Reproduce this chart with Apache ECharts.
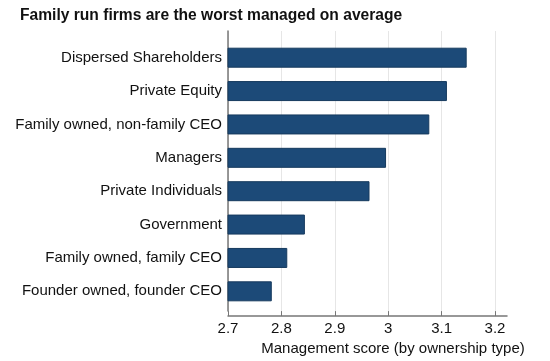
<!DOCTYPE html>
<html><head><meta charset="utf-8">
<script src="https://cdn.jsdelivr.net/npm/echarts@6/dist/echarts.min.js"></script>
<style>html,body{margin:0;padding:0;background:#fff}#c{width:550px;height:361px}</style>
</head><body><div id="c"></div>
<script>
const titleText = "Family run firms are the worst managed on average";
const categories = ["Dispersed Shareholders","Private Equity","Family owned, non-family CEO","Managers","Private Individuals","Government","Family owned, family CEO","Founder owned, founder CEO"];
const scores = [3.147, 3.110, 3.077, 2.996, 2.965, 2.844, 2.811, 2.782];
const xTicks = [2.7, 2.8, 2.9, 3.0, 3.1, 3.2];
const axisName = "Management score (by ownership type)";

const font = "'Liberation Sans', Arial, Helvetica, sans-serif";
const chart = echarts.init(document.getElementById('c'), null, {renderer:'canvas'});
chart.setOption({
  animation:false,
  title:{text:titleText, left:15, top:3, textStyle:{fontFamily:font, fontSize:15.6, fontWeight:'bold', color:'#111'}},
  grid:[
    {left:228, top:31, width:267, height:285},
    {left:228, top:41, width:279, height:267}
  ],
  xAxis:[
    {gridIndex:0, type:'value', min:2.7, max:3.2, interval:0.1,
     axisLine:{show:false},
     axisTick:{show:true, length:5, lineStyle:{color:'#777'}},
     axisLabel:{color:'#111', fontFamily:font, fontSize:15, margin:10,
       formatter:v=>{const t=xTicks.find(x=>Math.abs(x-v)<1e-6); return t===undefined?'':String(t);}},
     splitLine:{show:true, lineStyle:{color:'#e6e6e6', width:1}},
     name:axisName, nameLocation:'middle', nameGap:21,
     nameTextStyle:{color:'#111', fontFamily:font, fontSize:15, padding:[0,0,0,63]}},
    {gridIndex:1, type:'value', min:2.7, max:3.2225, offset:8,
     axisLine:{show:true, lineStyle:{color:'#777', width:1.5}},
     axisTick:{show:false}, axisLabel:{show:false}, splitLine:{show:false}}
  ],
  yAxis:[
    {gridIndex:0, type:'value', min:0, max:1,
     axisLine:{show:true, lineStyle:{color:'#777', width:1.5}},
     axisTick:{show:false}, axisLabel:{show:false}, splitLine:{show:false}},
    {gridIndex:1, type:'category', data:categories, inverse:true,
     axisLine:{show:false}, axisTick:{show:false},
     axisLabel:{color:'#111', fontFamily:font, fontSize:15, margin:6}}
  ],
  series:[{
    type:'bar', xAxisIndex:1, yAxisIndex:1, data:scores, barWidth:20,
    itemStyle:{color:'#1c4a78', borderColor:'#163a5e', borderWidth:1}
  }]
});
</script></body></html>
